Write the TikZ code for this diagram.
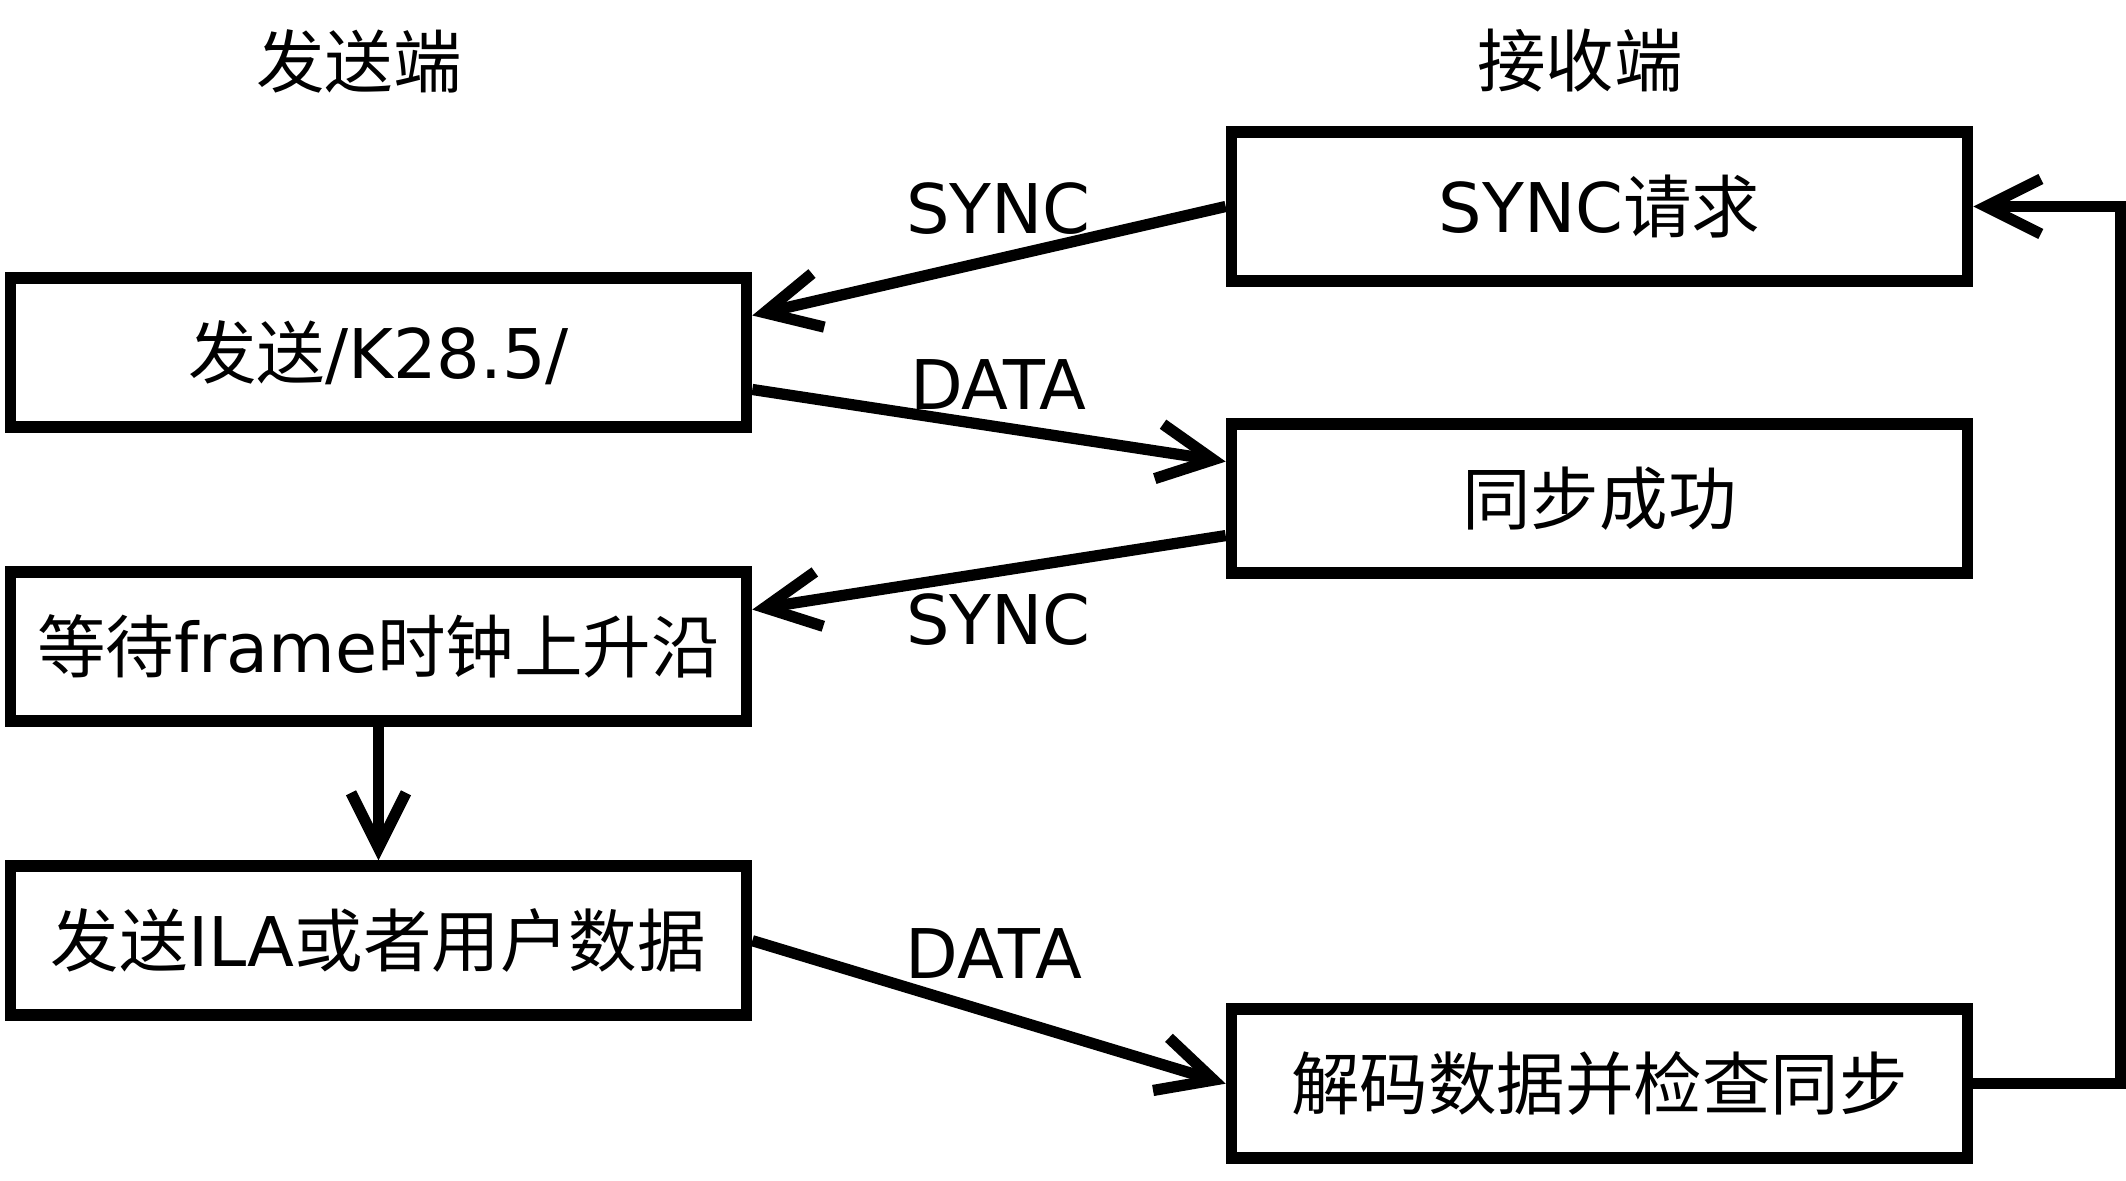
\documentclass[tikz,border=0pt]{standalone}
\usepackage{fontspec}
\setmainfont{DejaVu Sans}
\newfontfamily\cjk{Noto Sans CJK SC}
\usepackage{tikz}
\usetikzlibrary{positioning, arrows.meta}
\newcommand{\zh}[1]{{\cjk #1}}
\newcommand{\boxfont}{\fontsize{19.5pt}{23pt}\selectfont}

\begin{document}
\begin{tikzpicture}[
    box/.style={
      draw, line width=3.3pt,
      minimum width=7.36cm, minimum height=1.49cm,
      font=\boxfont
    },
    lbl/.style={font=\boxfont},
    link/.style={
      line width=3.2pt,
      -{Straight Barb[length=0.55cm, width=0.55cm]}
    }
  ]
    \useasboundingbox (0,0) rectangle (21.26,11.81);

    % sender side
    \node[lbl] (txhead) at (3.59,11.20) {\zh{发送端}};
    \node[box] (send) at (3.785,8.285) {\zh{发送}/K28.5/};
    \node[box] (wait) [below=1.335cm of send] {\zh{等待}frame\zh{时钟上升沿}};
    \node[box] (ila)  [below=1.335cm of wait] {\zh{发送}ILA\zh{或者用户数据}};

    % receiver side
    \node[lbl] (rxhead) at (15.80,11.20) {\zh{接收端}};
    \node[box] (req)    at (15.995,9.745) {SYNC\zh{请求}};
    \node[box] (ok)     [below=1.315cm of req] {\zh{同步成功}};
    \node[box] (decode) [below=4.245cm of ok]  {\zh{解码数据并检查同步}};

    \draw[link] (req.west) -- node[lbl, above=2pt, pos=0.48]{SYNC} ([yshift=.37cm]send.east);
    \draw[link] ([yshift=-.37cm]send.east) -- node[lbl, above, pos=0.52]{DATA} ([yshift=.37cm]ok.west);
    \draw[link] ([yshift=-.37cm]ok.west) -- node[lbl, below=1.5pt, pos=0.48]{SYNC} ([yshift=.37cm]wait.east);
    \draw[link] (wait) -- (ila);
    \draw[link] (ila.east) -- node[lbl, above=5pt, pos=0.51]{DATA} (decode.west);
    \draw[link] (decode.east) -- ++(1.47,0) |- (req.east);
  \end{tikzpicture}
\end{document}
